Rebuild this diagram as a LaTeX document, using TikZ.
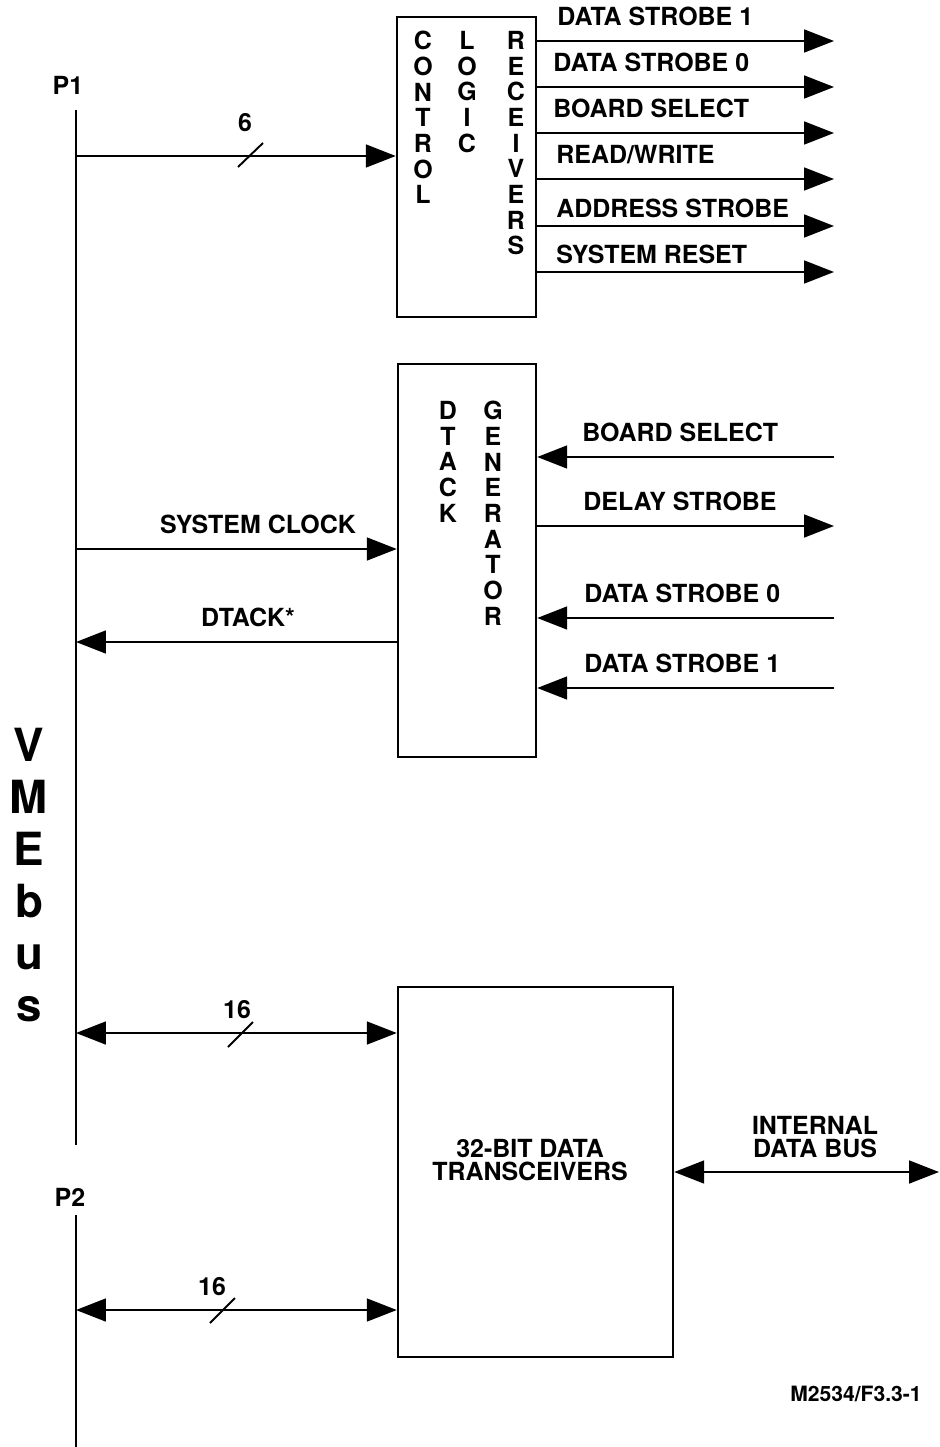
\documentclass[tikz,border=0pt]{standalone}
\usepackage{fontspec}
\setmainfont{TeX Gyre Heros}
\usetikzlibrary{arrows.meta}

\begin{document}
\begin{tikzpicture}[x=0.2mm, y=-0.2mm, >={Triangle[length=17pt,width=13pt]},
  font=\fontsize{14.2}{14.6}\selectfont\bfseries,
  blk/.style={draw, line width=1.4pt, inner sep=0pt},
  sig/.style={line width=1.1pt},
  lbl/.style={anchor=west, inner sep=0pt, text height=10.2pt, text depth=0pt},
  vlbl/.style={anchor=north, align=center, inner sep=0pt}
]
  \useasboundingbox (0,0) rectangle (940,1447);

  % VMEbus backplane
  \coordinate (p1top) at (76,110);
  \coordinate (p1bot) at (76,1145);
  \coordinate (p2top) at (76,1215);
  \coordinate (p2bot) at (76,1447);
  \draw[sig] (p1top) -- (p1bot);
  \draw[sig] (p2top) -- (p2bot);
  \node (p1) at (68,85) {P1};
  \node (p2) at (70,1197) {P2};
  \node[vlbl, font=\fontsize{26}{29.6}\selectfont\bfseries] (vme) at (29,728)
        {V\\M\\E\\b\\u\\s};

  % control logic receivers
  \node[blk, minimum width=2.78cm, minimum height=6cm] (ctl) at (466.5,167) {};
  \node[vlbl] (ctlA) at (423,31) {C\\O\\N\\T\\R\\O\\L};
  \node[vlbl] (ctlB) at (467,31) {L\\O\\G\\I\\C};
  \node[vlbl] (ctlC) at (516,31) {R\\E\\C\\E\\I\\V\\E\\R\\S};
  \coordinate (ctlin) at (76,156);
  \draw[sig, ->] (ctlin) -- (ctlin -| ctl.west);
  \draw[sig] (238,167) -- (263,143);
  \node (w6) at (245,123) {6};

  \coordinate (o1) at (834,41);
  \coordinate (o2) at (834,87);
  \coordinate (o3) at (834,133);
  \coordinate (o4) at (834,179);
  \coordinate (o5) at (834,226);
  \coordinate (o6) at (834,272);
  \foreach \o in {o1,o2,o3,o4,o5,o6}
    \draw[sig, ->] (\o -| ctl.east) -- (\o);
  \node[lbl] (ds1) at (557,17)  {DATA STROBE 1};
  \node[lbl] (ds0) at (553,63)  {DATA STROBE 0};
  \node[lbl] (bsel) at (553,109) {BOARD SELECT};
  \node[lbl] (rw) at (556,155)  {READ/WRITE};
  \node[lbl] (as) at (556,209)  {ADDRESS STROBE};
  \node[lbl] (rst) at (556,255) {SYSTEM RESET};

  % DTACK generator
  \node[blk, minimum width=2.76cm, minimum height=7.86cm] (dtk) at (467,560.5) {};
  \node[vlbl] (dtkA) at (448,401) {D\\T\\A\\C\\K};
  \node[vlbl] (dtkB) at (493,401) {G\\E\\N\\E\\R\\A\\T\\O\\R};
  \coordinate (clk) at (76,549);
  \coordinate (ack) at (76,642);
  \draw[sig, ->] (clk) -- (clk -| dtk.west);
  \draw[sig, ->] (ack -| dtk.west) -- (ack);
  \node (clkl) at (258,524) {SYSTEM CLOCK};
  \node (ackl) at (248,617) {DTACK*};

  \coordinate (i1) at (834,457);
  \coordinate (i2) at (834,526);
  \coordinate (i3) at (834,618);
  \coordinate (i4) at (834,688);
  \draw[sig, ->] (i1) -- (i1 -| dtk.east);
  \draw[sig, ->] (i2 -| dtk.east) -- (i2);
  \draw[sig, ->] (i3) -- (i3 -| dtk.east);
  \draw[sig, ->] (i4) -- (i4 -| dtk.east);
  \node[lbl] (bsel2) at (582,433) {BOARD SELECT};
  \node[lbl] (dly) at (583,502) {DELAY STROBE};
  \node[lbl] (ds0b) at (584,594) {DATA STROBE 0};
  \node[lbl] (ds1b) at (584,664) {DATA STROBE 1};

  % data transceivers
  \node[blk, minimum width=5.5cm, minimum height=7.4cm] (xcv) at (535.5,1172) {};
  \node[align=center, font=\fontsize{14.2}{13.6}\selectfont\bfseries] (xcvl) at (530,1160)
        {32-BIT DATA\\TRANSCEIVERS};
  \coordinate (d1) at (76,1033);
  \coordinate (d2) at (76,1310);
  \draw[sig, <->] (d1) -- (d1 -| xcv.west);
  \draw[sig, <->] (d2) -- (d2 -| xcv.west);
  \draw[sig] (228,1047) -- (253,1022);
  \draw[sig] (210,1323) -- (235,1298);
  \node (w16a) at (237,1010) {16};
  \node (w16b) at (212,1287) {16};

  \coordinate (ibus) at (939,1172);
  \draw[sig, <->] (ibus -| xcv.east) -- (ibus);
  \node[align=center, font=\fontsize{14.2}{13.2}\selectfont\bfseries] (ibusl) at (815,1137)
        {INTERNAL\\DATA BUS};

  \node[anchor=east, inner sep=0pt, font=\fontsize{12}{14}\selectfont\bfseries] (fig) at (922,1394)
        {M2534/F3.3-1};
\end{tikzpicture}
\end{document}
